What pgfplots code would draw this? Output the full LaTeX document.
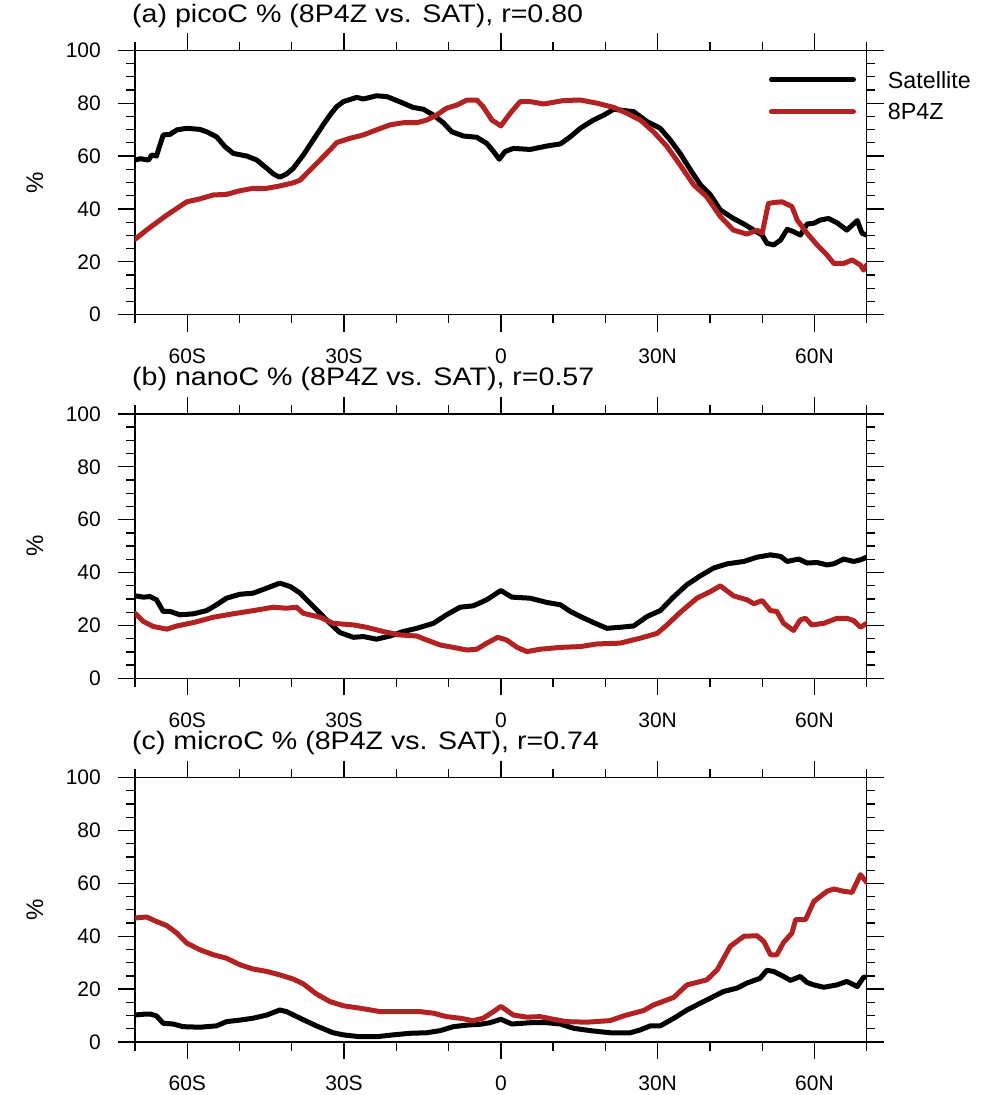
\documentclass[border=0pt]{standalone}
\usepackage{fontspec}
\setmainfont{Liberation Sans}
\newfontfamily\titlefont{Liberation Sans}[FakeStretch=1.13]
\usepackage{pgfplots}
\pgfplotsset{compat=1.18}
\definecolor{redline}{RGB}{178,34,34}
\pgfplotsset{
  panel/.style={
    scale only axis, width=731.7pt, height=264.4pt,
    xmin=-70, xmax=70, ymin=0, ymax=100,
    xtick={-60,-30,0,30,60},
    xticklabels={60S,30S,0,30N,60N},
    minor xtick={-70,-50,-40,-20,-10,10,20,40,50,70},
    ytick={0,20,40,60,80,100},
    minor ytick={5,10,15,25,30,35,45,50,55,65,70,75,85,90,95},
    tick align=outside,
    major tick length=17pt, minor tick length=8.5pt,
    tick style={black, line width=1.3pt},
    axis line style={line width=1.5pt},
    /pgf/number format/assume math mode=true,
    tick label style={font=\fontsize{21}{25}\selectfont},
    xticklabel style={inner sep=0pt, anchor=north, yshift=-17pt},
    yticklabel style={inner sep=0pt, anchor=east, xshift=-17pt},
    ylabel={\%},
    every axis y label/.style={at={(axis description cs:-0.1367,0.5)}, anchor=center, rotate=90, font=\fontsize{24}{28}\selectfont},
    title style={at={(axis description cs:0,1)}, anchor=base west, xshift=-3pt, yshift=22.3pt, inner sep=0pt, font=\titlefont\fontsize{25.3}{30}\selectfont},
  },
  sat/.style={black, line width=5pt, line join=round, line cap=round},
  mod/.style={redline, line width=5pt, line join=round, line cap=round},
}
\begin{document}
\begin{tikzpicture}
\useasboundingbox (0pt,0pt) rectangle (989pt,-1095pt);
% ---------------- panel (a)
\begin{axis}[panel, at={(135pt,-314.7pt)}, anchor=south west,
  title={(a) picoC \% (8P4Z vs. SAT), r=0.80},
  legend image code/.code={\draw[#1] (0pt,0pt) -- (82pt,0pt);},
  legend cell align=left,
  legend style={draw=none, fill=none, inner sep=0pt, outer sep=0pt,
    at={(0.8664,0.9209)}, anchor=north west,
    nodes={inner sep=0pt, text depth=0pt},
    row sep=15.5pt, column sep=32pt,
    font=\fontsize{23.3}{27}\selectfont},
]
\addplot[sat] coordinates {
(-70,58.5)(-69,59)(-67.4,58.5)(-66.8,60.4)(-65.9,60)(-64.6,68)(-63.3,68.2)(-62,69.9)(-60.1,70.5)(-57.6,70.1)(-56.3,69.2)(-54.4,67.3)(-52.8,63.6)(-51.2,61)(-48.6,60)(-46.7,58.5)(-44.8,55.4)(-43.5,53.2)(-42.3,52)(-41,53.2)(-39.7,55.4)(-37.8,60.4)(-35.9,66.1)(-34,71.8)(-32.7,75.5)(-31.4,78.7)(-30.1,80.6)(-27.6,82.2)(-26.3,81.6)(-25,82.2)(-23.8,82.8)(-21.8,82.5)(-19.4,80.6)(-16.8,78.4)(-14.8,77.7)(-12.9,75.5)(-11,72.6)(-9.4,69.2)(-7.2,67.6)(-4.6,67.1)(-2.7,64.8)(-1.4,61.7)(-0.3,58.8)
(0.8,61.7)(2.4,62.9)(5.6,62.5)(8.8,63.8)(11.4,64.6)(13.3,67.3)(15.2,70.5)(17.7,73.6)(19.7,75.5)(21.6,77.7)(22.8,77.4)(25.4,76.8)(28,73)(30.5,70.5)(32.4,66.1)(34.3,61)(36.3,54.7)(38.2,49.1)(40.1,45.3)(42,39.6)(44.5,36.4)(46.5,34.3)(48.4,32)(50,30.1)(50.9,27)(52.2,26.4)(53.5,28.2)(54.8,32.3)(56,31.4)(57.3,30.1)(58.6,34.3)(59.9,34.6)(61.1,35.8)(62.7,36.4)(64.3,34.8)(66.2,32)(68.2,35.6)(69.1,30.8)(70,30.1)
};
\addlegendentry{Satellite}
\addplot[mod] coordinates {
(-70,28.5)(-67.8,32)(-65.9,34.8)(-63.9,37.7)(-62,40.2)(-60.1,42.7)(-57.6,43.8)(-55,45.3)(-52.5,45.5)(-49.9,46.9)(-47.4,47.8)(-44.8,47.8)(-42.3,48.7)(-39.7,49.9)(-38.4,50.9)(-36.5,54.7)(-34.6,58.5)(-32.7,62.3)(-31.4,65.1)(-28.9,66.7)(-26.3,68)(-23.8,69.9)(-21.2,71.8)(-18.7,72.6)(-16.1,72.6)(-14.2,73.6)(-12.3,75.5)(-10.4,78.1)(-8.4,79.3)(-6.5,81.2)(-4.6,81.2)(-3.4,78.7)(-1.7,73.6)(0,71.4)
(1.8,76.2)(3.7,80.6)(5.6,80.6)(8.2,79.7)(12,81)(15.2,81.2)(18.4,80)(21.6,78.4)(24.1,76.2)(26.7,73.6)(29.2,69.2)(31.8,63.6)(34.3,56.6)(36.9,49.1)(39.4,44.6)(42,37.1)(44.5,32)(47.1,30.5)(49,32)(50,30.8)(51.2,42.1)(52.2,42.4)(53.8,42.7)(55.7,40.9)(56.7,35.8)(58.6,30.8)(60.5,26.4)(62.4,22.6)(63.7,19.4)(65.6,19.4)(67.2,20.7)(68.8,18.8)(69.4,16.9)(70,18.8)
};
\addlegendentry{8P4Z}
\end{axis}
% ---------------- panel (b)
\begin{axis}[panel, at={(135pt,-678.3pt)}, anchor=south west,
  title={(b) nanoC \% (8P4Z vs. SAT), r=0.57}]
\addplot[sat] coordinates {
(-70,31.2)(-68.4,30.7)(-67.1,30.9)(-65.9,29.7)(-64.6,25.3)(-63.3,25.3)(-61.4,24)(-58.8,24.4)(-56.3,25.6)(-54.4,27.8)(-52.5,30.3)(-49.9,31.8)(-47.4,32.2)(-44.8,34.1)(-42.3,36)(-40.3,34.7)(-38.4,32.2)(-36.5,28.4)(-34.6,24.6)(-32.7,20.8)(-30.8,17.3)(-28.2,15.5)(-26.3,15.8)(-23.8,14.8)(-21.2,16)(-18.7,17.7)(-16.1,18.9)(-12.9,20.8)(-10.4,24)(-7.8,26.9)(-5.3,27.4)(-2.7,29.7)(0,33.2)
(2.1,30.7)(5.6,30.3)(8.8,28.7)(11.4,27.8)(13.3,25.3)(15.2,23.4)(17.7,21.1)(20.3,18.9)(22.8,19.3)(25.4,19.8)(28,23.4)(30.5,25.6)(33,30.7)(35.6,35.4)(38.2,38.8)(40.7,41.7)(43.3,43.3)(46.5,44.2)(49,45.8)(51.6,46.7)(53.5,46.1)(54.8,44.2)(57,45.1)(58.6,43.6)(60.5,43.8)(62.4,42.9)(63.7,43.3)(65.6,45.1)(67.5,44.2)(68.8,44.8)(70,45.8)
};
\addplot[mod] coordinates {
(-70,24.6)(-68.4,21.5)(-66.5,19.6)(-63.9,18.6)(-62,19.8)(-58.8,21.1)(-55,23.1)(-51.2,24.4)(-47.4,25.6)(-43.5,26.9)(-41,26.5)(-39.1,26.9)(-37.8,24.6)(-34.6,23.1)(-32.1,20.8)(-28.2,20.2)(-25.7,19.3)(-22.5,17.7)(-19.3,16.4)(-16.1,16)(-14.2,14.5)(-11.6,12.6)(-9.1,11.7)(-6.5,10.7)(-4.6,11)(-2.7,13.3)(-0.6,15.5)
(1.1,14.5)(3.1,11.7)(5,10.1)(7.5,11)(11.4,11.7)(15.2,12)(18.4,13)(22.8,13.3)(26.7,15.2)(29.9,17)(31.8,20.2)(34.3,24.9)(37.5,30.3)(40.1,32.8)(42,35)(44.5,31.2)(47.1,29.7)(48.4,28.2)(50,29.4)(51.6,25.6)(52.8,25.3)(54.1,20.8)(56,18.1)(57.3,22.1)(58.3,22.7)(59.5,20.2)(61.8,20.8)(64.3,22.7)(66.2,22.7)(67.5,21.8)(68.8,19.3)(70,20.8)
};
\end{axis}
% ---------------- panel (c)
\begin{axis}[panel, at={(135pt,-1042pt)}, anchor=south west,
  title={(c) microC \% (8P4Z vs. SAT), r=0.74}]
\addplot[sat] coordinates {
(-70,10.2)(-68.4,10.5)(-67.1,10.6)(-65.9,9.9)(-64.6,7.1)(-62.7,6.8)(-60.8,5.8)(-57.6,5.6)(-54.4,6.1)(-52.5,7.7)(-49.9,8.3)(-47.4,9)(-44.8,10.2)(-42.3,12.1)(-41,11.5)(-38.4,9)(-35.3,6.1)(-32.1,3.5)(-30.1,2.7)(-27,2)(-23.8,2)(-20.6,2.7)(-17.4,3.3)(-14.2,3.5)(-11.6,4.3)(-9.1,5.8)(-6.5,6.4)(-4,6.7)(-2.1,7.3)(0,8.6)
(2.1,6.8)(5.6,7.3)(8.8,7.3)(11.4,6.8)(13.9,5.2)(17.1,4.3)(20.9,3.5)(24.8,3.5)(26.7,4.6)(28.6,6.1)(30.5,6.1)(33.1,9)(35.6,12.1)(38.2,14.7)(40.7,17.2)(42.6,19.1)(45.2,20.4)(47.1,22.3)(49.6,24.1)(50.9,27.1)(52.2,26.7)(54.1,24.8)(55.4,23.3)(57.3,24.8)(58.6,22.5)(59.9,21.6)(61.8,20.7)(64.3,21.6)(66.2,22.9)(68.2,21)(69.4,24.5)(70,24.5)
};
\addplot[mod] coordinates {
(-70,46.9)(-67.8,47.3)(-65.9,45.6)(-63.9,44)(-62,41.2)(-60.1,37.4)(-57.6,34.9)(-55,33)(-52.5,31.7)(-49.9,29.2)(-47.4,27.6)(-44.8,26.7)(-42.3,25.4)(-39.7,23.8)(-37.8,22)(-35.3,18.2)(-32.7,15.3)(-30.1,13.7)(-27,12.8)(-23.1,11.5)(-19.3,11.5)(-15.5,11.5)(-12.9,10.9)(-10.4,9.6)(-7.8,9)(-5.3,8.1)(-3.4,9)(-1.4,11.5)(0,13.5)
(2.4,10.2)(5,9.4)(7.5,9.6)(10.1,8.6)(12.6,7.7)(16.5,7.5)(20.9,8.1)(23.5,9.9)(27.3,11.9)(29.2,14)(33.1,16.9)(35.6,21.6)(39.4,23.5)(41.4,27.3)(43.9,36.2)(46.5,40)(49,40.2)(50.3,38.1)(51.6,33)(52.8,33)(54.1,37.7)(55.7,41.2)(56.4,46.3)(58.3,46.3)(59.9,53.2)(62.4,57)(63.7,57.9)(65.6,57)(67.2,56.6)(68.8,63.3)(70,60.4)
};
\end{axis}
\end{tikzpicture}
\end{document}
